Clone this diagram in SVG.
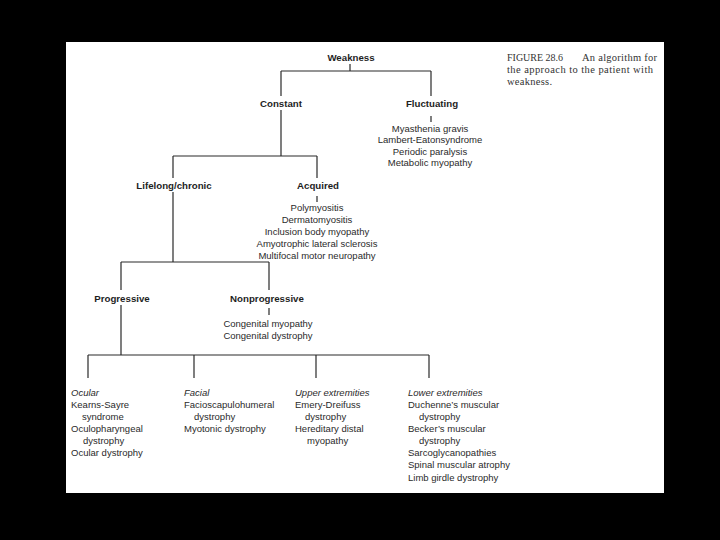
<svg xmlns="http://www.w3.org/2000/svg" width="720" height="540" viewBox="0 0 720 540">
<style>
.b{font-family:"Liberation Sans",Arial,sans-serif;font-weight:bold;font-size:9.7px;fill:#1e1e1e;text-anchor:middle}
.r{font-family:"Liberation Sans",Arial,sans-serif;font-size:9.5px;fill:#2a2a2a}
.c{text-anchor:middle}
.i{font-style:italic}
.cap{font-family:"Liberation Serif","Times New Roman",serif;font-size:10.5px;fill:#333}
.ln{stroke:#2a2a2a;stroke-width:1.2;fill:none}
</style>
<rect x="0" y="0" width="720" height="540" fill="#000"/>
<rect x="66" y="42" width="598" height="451" fill="#fff"/>

<g id="connectors" class="ln">
<path d="M350 64V71M281 71H431M281 71V96M431 71V96M431 116V122"/>
<path d="M281 110V156M173 156H317M173 156V178M317 156V178M317 196V202"/>
<path d="M173 192V262M121 262H269M121 262V290M269 262V290M269 308V315"/>
<path d="M121 305V355M88 355H429M88 355V378M194 355V378M316 355V378M429 355V378"/>
</g>

<g id="weakness"><text class="b" x="351" y="60.5">Weakness</text></g>
<g id="constant"><text class="b" x="281" y="106.5">Constant</text></g>
<g id="fluctuating"><text class="b" x="432" y="107">Fluctuating</text>
<text class="r c" x="430" y="131.5">Myasthenia gravis</text>
<text class="r c" x="430" y="143">Lambert-Eatonsyndrome</text>
<text class="r c" x="430" y="154.5">Periodic paralysis</text>
<text class="r c" x="430" y="166">Metabolic myopathy</text>
</g>
<g id="lifelong"><text class="b" x="174" y="188.5">Lifelong/chronic</text></g>
<g id="acquired"><text class="b" x="318" y="188.5">Acquired</text>
<text class="r c" x="317" y="210.5">Polymyositis</text>
<text class="r c" x="317" y="222.7">Dermatomyositis</text>
<text class="r c" x="317" y="234.9">Inclusion body myopathy</text>
<text class="r c" x="317" y="247.1">Amyotrophic lateral sclerosis</text>
<text class="r c" x="317" y="259.3">Multifocal motor neuropathy</text>
</g>
<g id="progressive"><text class="b" x="122" y="301.5">Progressive</text></g>
<g id="nonprogressive"><text class="b" x="267" y="301.5">Nonprogressive</text>
<text class="r c" x="268" y="326.5">Congenital myopathy</text>
<text class="r c" x="268" y="339">Congenital dystrophy</text>
</g>

<g id="ocular">
<text class="r i" x="71" y="395.5">Ocular</text>
<text class="r" x="71" y="407.6">Kearns-Sayre</text>
<text class="r" x="82" y="419.8">syndrome</text>
<text class="r" x="71" y="431.9">Oculopharyngeal</text>
<text class="r" x="83" y="444">dystrophy</text>
<text class="r" x="71" y="456.2">Ocular dystrophy</text>
</g>
<g id="facial">
<text class="r i" x="184" y="395.5">Facial</text>
<text class="r" x="184" y="407.6">Facioscapulohumeral</text>
<text class="r" x="194" y="419.8">dystrophy</text>
<text class="r" x="184" y="431.9">Myotonic dystrophy</text>
</g>
<g id="upper">
<text class="r i" x="295" y="395.5">Upper extremities</text>
<text class="r" x="295" y="407.6">Emery-Dreifuss</text>
<text class="r" x="305" y="419.8">dystrophy</text>
<text class="r" x="295" y="431.9">Hereditary distal</text>
<text class="r" x="307" y="444">myopathy</text>
</g>
<g id="lower">
<text class="r i" x="408" y="395.5">Lower extremities</text>
<text class="r" x="408" y="407.6">Duchenne’s muscular</text>
<text class="r" x="419" y="419.8">dystrophy</text>
<text class="r" x="408" y="431.9">Becker’s muscular</text>
<text class="r" x="419" y="444">dystrophy</text>
<text class="r" x="408" y="456.2">Sarcoglycanopathies</text>
<text class="r" x="408" y="468.3">Spinal muscular atrophy</text>
<text class="r" x="408" y="480.5">Limb girdle dystrophy</text>
</g>

<g id="caption">
<text class="cap" x="507" y="61" style="font-size:10px">FIGURE 28.6</text>
<text class="cap" x="582" y="61" textLength="75" lengthAdjust="spacing">An algorithm for</text>
<text class="cap" x="507" y="73" textLength="146" lengthAdjust="spacing">the approach to the patient with</text>
<text class="cap" x="507" y="85" textLength="45" lengthAdjust="spacing">weakness.</text>
</g>
</svg>
